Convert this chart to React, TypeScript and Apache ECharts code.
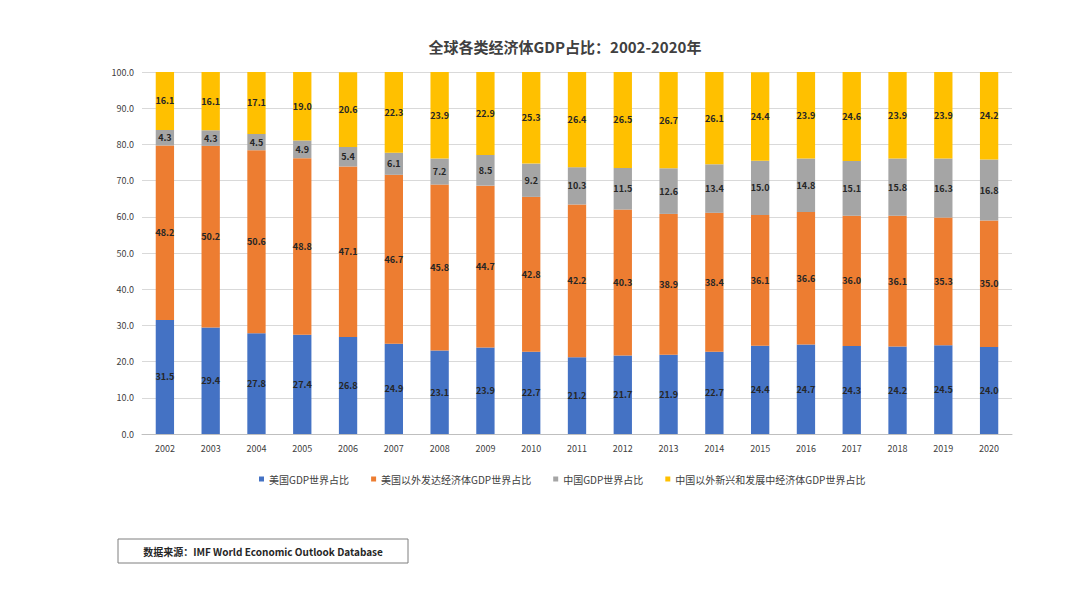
import React, { useEffect, useRef } from "react";
import * as echarts from "echarts";

const years = ["2002","2003","2004","2005","2006","2007","2008","2009","2010","2011","2012","2013","2014","2015","2016","2017","2018","2019","2020"];
const usShare = [31.5, 29.4, 27.8, 27.4, 26.8, 24.9, 23.1, 23.9, 22.7, 21.2, 21.7, 21.9, 22.7, 24.4, 24.7, 24.3, 24.2, 24.5, 24.0];
const otherDevShare = [48.2, 50.2, 50.6, 48.8, 47.1, 46.7, 45.8, 44.7, 42.8, 42.2, 40.3, 38.9, 38.4, 36.1, 36.6, 36.0, 36.1, 35.3, 35.0];
const chinaShare = [4.3, 4.3, 4.5, 4.9, 5.4, 6.1, 7.2, 8.5, 9.2, 10.3, 11.5, 12.6, 13.4, 15.0, 14.8, 15.1, 15.8, 16.3, 16.8];
const otherEmShare = [16.1, 16.1, 17.1, 19.0, 20.6, 22.3, 23.9, 22.9, 25.3, 26.4, 26.5, 26.7, 26.1, 24.4, 23.9, 24.6, 23.9, 23.9, 24.2];
const seriesNames = ["美国GDP世界占比", "美国以外发达经济体GDP世界占比", "中国GDP世界占比", "中国以外新兴和发展中经济体GDP世界占比"];
const colors = ["#4472C4", "#ED7D31", "#A5A5A5", "#FFC000"];
const titleText = "全球各类经济体GDP占比：2002-2020年";
const sourceText = "数据来源：IMF World Economic Outlook Database";

const FONT = "'Noto Sans CJK SC', 'Noto Sans', sans-serif";

export default function App() {
  const ref = useRef<HTMLDivElement>(null);
  useEffect(() => {
    if (!ref.current) return;
    const chart = echarts.init(ref.current, null, { renderer: "svg" });
    const datasets = [usShare, otherDevShare, chinaShare, otherEmShare];
    chart.setOption({
      animation: false,
      backgroundColor: "#ffffff",
      color: colors,
      title: {
        text: titleText,
        left: 560,
        textAlign: "center",
        top: 34,
        textStyle: { fontFamily: FONT, fontSize: 15, fontWeight: "bold", color: "#404040" },
      },
      legend: {
        data: seriesNames,
        left: 254,
        top: 469,
        icon: "rect",
        itemWidth: 5,
        itemHeight: 5,
        itemGap: 22,
        textStyle: { fontFamily: FONT, fontSize: 10, color: "#404040" },
      },
      grid: { left: 142, top: 72, width: 870, height: 362, containLabel: false },
      xAxis: {
        type: "category",
        data: years,
        axisTick: { show: false },
        axisLine: { lineStyle: { color: "#bfbfbf" } },
        axisLabel: { fontFamily: FONT, fontSize: 9, color: "#404040", margin: 10 },
      },
      yAxis: {
        type: "value",
        min: 0,
        max: 100,
        interval: 10,
        axisLine: { show: false },
        axisTick: { show: false },
        splitLine: { lineStyle: { color: "#d9d9d9" } },
        axisLabel: {
          fontFamily: FONT,
          fontSize: 9,
          color: "#404040",
          margin: 8,
          formatter: (v: number) => v.toFixed(1),
        },
      },
      series: datasets.map((d, i) => ({
        name: seriesNames[i],
        type: "bar",
        stack: "total",
        barWidth: "40%",
        data: d,
        itemStyle: { color: colors[i] },
        label: {
          show: true,
          position: "inside",
          formatter: (p: any) => Number(p.value).toFixed(1),
          fontFamily: FONT,
          fontSize: 9,
          fontWeight: "bold",
          color: "#262626",
        },
      })),
      graphic: [
        {
          type: "rect",
          shape: { x: 118, y: 539, width: 290, height: 24 },
          style: { fill: "#ffffff", stroke: "#7f7f7f", lineWidth: 1 },
        },
        {
          type: "text",
          x: 263,
          y: 551,
          style: {
            text: sourceText,
            fontFamily: FONT,
            fontSize: 10,
            fontWeight: "bold",
            fill: "#262626",
            textAlign: "center",
            textVerticalAlign: "middle",
          },
        },
      ],
    });
    return () => chart.dispose();
  }, []);
  return <div ref={ref} style={{ width: 1080, height: 608, position: "absolute", left: 0, top: 0 }} />;
}
